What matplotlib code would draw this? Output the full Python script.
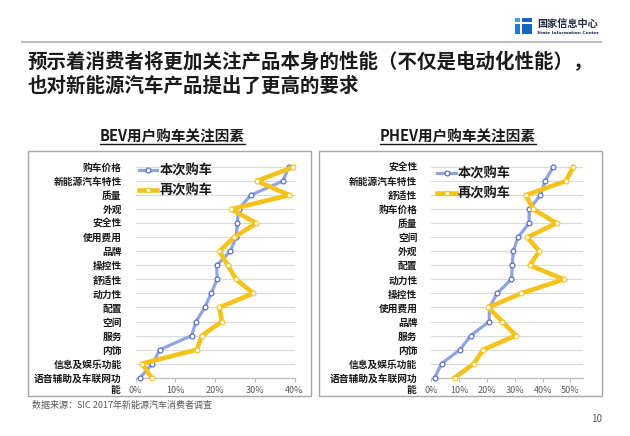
import numpy as np
import matplotlib
matplotlib.use("Agg")
import matplotlib.pyplot as plt
from matplotlib.patches import Rectangle
from matplotlib.lines import Line2D

plt.rcParams['font.family'] = ['Noto Sans CJK SC', 'DejaVu Sans']

# data (percent)
bev_cats = ['购车价格', '新能源汽车特性', '质量', '外观', '安全性', '使用费用', '品牌', '操控性',
            '舒适性', '动力性', '配置', '空间', '服务', '内饰', '信息及娱乐功能', '语音辅助及车联网功能']
bev_now = [38.5, 37.1, 29.0, 25.9, 25.6, 25.3, 23.8, 20.4, 20.5, 19.0, 17.4, 15.2, 14.1, 6.1, 4.2, 1.1]
bev_next = [39.7, 30.5, 38.7, 24.1, 30.4, 24.8, 21.1, 23.2, 25.3, 29.6, 21.1, 21.7, 16.7, 15.4, 1.6, 4.0]

phev_cats = ['安全性', '新能源汽车特性', '舒适性', '购车价格', '质量', '空间', '外观', '配置', '动力性',
             '操控性', '使用费用', '品牌', '服务', '内饰', '信息及娱乐功能', '语音辅助及车联网功能']
phev_now = [43.8, 40.8, 39.2, 35.2, 35.1, 31.2, 29.4, 29.1, 28.8, 23.6, 20.9, 20.8, 14.2, 10.3, 3.7, 1.2]
phev_next = [51.0, 48.3, 34.0, 36.6, 45.0, 34.5, 38.8, 35.4, 47.6, 32.2, 20.5, 25.5, 30.4, 18.7, 15.3, 8.4]

series_names = ['本次购车', '再次购车']

W, H = 630, 436
BLUE = '#8FA4E0'
BLUE_EDGE = '#4A66B8'
YELLOW = '#F3C21B'
GRAY = '#595959'

fig = plt.figure(figsize=(6.3, 4.36), dpi=100)


def px(x, y):  # pixel (top-left origin) -> figure fraction
    return x / W, 1 - y / H


def rect_ax(x0, y0, x1, y1):
    return [x0 / W, 1 - y1 / H, (x1 - x0) / W, (y1 - y0) / H]


def draw_panel(box, cats, now, nxt, xmax, ticks, legend_xy):
    ax = fig.add_axes(rect_ax(*box))
    n = len(cats)
    y = np.arange(n)
    ax.plot(np.array(now) / 100, y, color=BLUE, lw=2.3, marker='o', ms=3.5,
            mfc='white', mec=BLUE_EDGE, mew=0.8, clip_on=False, zorder=3, label=series_names[0])
    ax.plot(np.array(nxt) / 100, y, color=YELLOW, lw=3.3, marker='o', ms=3.5,
            mfc='white', mec=YELLOW, mew=0.8, clip_on=False, zorder=4, label=series_names[1])
    ax.set_ylim(n - 1, 0)
    ax.set_xlim(0, xmax)
    ax.set_yticks(y)
    labels = list(cats)
    labels[-1] = '语音辅助及车联网功'  # wrapped in the original, last char on its own line
    ax.set_yticklabels(labels, fontsize=7, fontweight='bold', color='#1a1a1a')
    # x in axes coords, y in data coords
    ax.text(-15 / (box[2] - box[0]), n - 1 + 0.87, '能', transform=ax.get_yaxis_transform(),
            fontsize=7, fontweight='bold', color='#1a1a1a', ha='right', va='center')
    ax.tick_params(axis='y', length=0, pad=10)
    ax.set_xticks(ticks)
    ax.set_xticklabels(['%d%%' % round(t * 100) for t in ticks], fontsize=6.5, color=GRAY)
    ax.tick_params(axis='x', length=3, color='#BFBFBF', pad=3)
    ax.yaxis.grid(True, color='#D9D9D9', lw=0.8)
    ax.set_axisbelow(True)
    for s in ['top', 'right', 'left']:
        ax.spines[s].set_visible(False)
    ax.spines['bottom'].set_color('#BFBFBF')
    ax.spines['bottom'].set_linewidth(1)
    ax.patch.set_alpha(0)
    leg = ax.legend(loc='upper left', bbox_to_anchor=legend_xy, frameon=False,
                    prop={'size': 9.5, 'weight': 'bold'}, handlelength=1.4,
                    handletextpad=0.15, labelspacing=0.45, borderpad=0, borderaxespad=0)
    for t in leg.get_texts():
        t.set_color('#1a1a1a')
    return ax


# frames around the two charts
for x0, x1 in [(28, 311), (319, 602)]:
    fig.patches.append(Rectangle(px(x0, 396), (x1 - x0) / W, (396 - 151.5) / H,
                                 transform=fig.transFigure, fill=False,
                                 edgecolor='#A6A6A6', lw=1))

draw_panel((135.7, 167, 294.5, 377.7), bev_cats, bev_now, bev_next, 0.40,
           [0, 0.1, 0.2, 0.3, 0.4], (0.02, 1.015))
draw_panel((431.3, 167, 583, 377.7), phev_cats, phev_now, phev_next, 0.545,
           [0, 0.1, 0.2, 0.3, 0.4, 0.5], (0.04, 1.0))

# chart titles, underlined
titles = []
for x, s in [(172.5, 'BEV用户购车关注因素'), (458, 'PHEV用户购车关注因素')]:
    titles.append(fig.text(*px(x, 136), s, fontsize=10.5, fontweight='bold',
                           ha='center', va='center', color='#1a1a1a'))

# page title
fig.text(*px(28, 62), '预示着消费者将更加关注产品本身的性能（不仅是电动化性能），',
         fontsize=14, fontweight='bold', va='center', color='#1a1a1a')
fig.text(*px(28, 86), '也对新能源汽车产品提出了更高的要求',
         fontsize=14, fontweight='bold', va='center', color='#1a1a1a')

# header rule
fig.add_artist(Line2D([22 / W, 601 / W], [1 - 42 / H] * 2, color='#BFBFBF', lw=1.5))

# logo
for x0, y0, x1, y1, c in [(515, 18, 520, 22.5, '#3FA0E0'), (521.5, 18, 532, 22.5, '#1565C0'),
                          (515, 24, 520, 34, '#1E7AD0'), (521.5, 24, 532, 34, '#1565C0')]:
    fig.patches.append(Rectangle(px(x0, y1), (x1 - x0) / W, (y1 - y0) / H,
                                 transform=fig.transFigure, color=c, lw=0))
fig.text(*px(537, 24), '国家信息中心', fontsize=7.3, fontweight='bold', va='center', color='#1F2A44')
fig.text(*px(537, 32.5), 'State Information Center', fontsize=3.2, fontweight='bold',
         va='center', color='#1F2A44', family='DejaVu Sans')

# source and page number
fig.text(*px(32, 405), '数据来源：SIC 2017年新能源汽车消费者调查', fontsize=6.5,
         va='center', color=GRAY)
fig.text(*px(597, 419), '10', fontsize=7, va='center', ha='center', color=GRAY)

fig.canvas.draw()
r = fig.canvas.get_renderer()
for t in titles:
    bb = t.get_window_extent(r).transformed(fig.transFigure.inverted())
    fig.add_artist(Line2D([bb.x0, bb.x1], [1 - 144 / H] * 2, color='#1a1a1a', lw=1))

fig.savefig('out.png', dpi=100)
